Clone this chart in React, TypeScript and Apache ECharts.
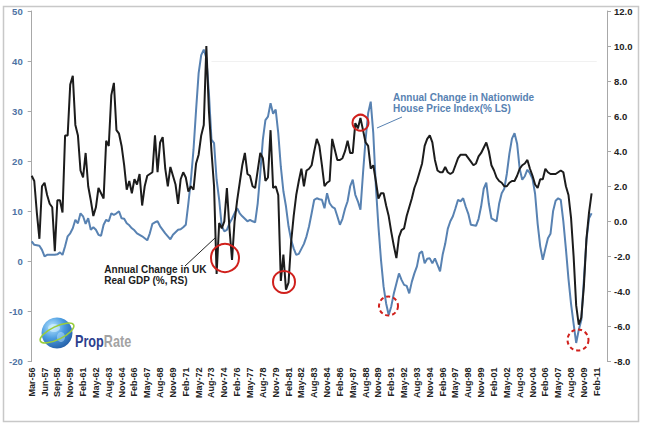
import React, { useEffect, useRef } from "react";
import * as echarts from "echarts";

const tickLabels = [
  "Mar-56", "Jun-57", "Sep-58", "Nov-59", "Feb-61", "May-62", "Aug-63", "Nov-64", "Feb-66",
  "May-67", "Aug-68", "Nov-69", "Feb-71", "May-72", "Aug-73", "Nov-74", "Feb-76", "May-77",
  "Aug-78", "Nov-79", "Feb-81", "May-82", "Aug-83", "Nov-84", "Feb-86", "May-87", "Aug-88",
  "Nov-89", "Feb-91", "May-92", "Aug-93", "Nov-94", "Feb-96", "May-97", "Aug-98", "Nov-99",
  "Feb-01", "May-02", "Aug-03", "Nov-04", "Feb-06", "May-07", "Aug-08", "Nov-09", "Feb-11",
];

const QUARTERS_PER_TICK = 5;
const TOTAL_QUARTERS = 225;

// Annual change in Nationwide House Price Index (%, left scale), quarterly
const hpi = [
  4, 3.3, 3.2, 3.1, 2.3, 1.0, 1.3, 1.3, 1.3, 1.3,
  1.4, 1.8, 1.3, 3.0, 5, 5.6, 6.6, 8.3, 7.6, 9.6,
  9, 7.5, 8.6, 6.3, 6.8, 6.3, 5.3, 5.1, 7.3, 8.3,
  8, 9.6, 9.3, 9.6, 10, 8.6, 8.5, 7.6, 7.2, 6.6,
  6.2, 5.6, 5.3, 5, 4.6, 4.2, 5.6, 7.5, 7.8, 8,
  7, 6.3, 5.6, 5, 4.4, 5.3, 5.8, 6.3, 6.4, 6.8,
  7.3, 11.6, 16.3, 22.3, 30.2, 37.6, 41.2, 42.3, 40.6, 33.6,
  24.3, 23.6, 16.3, 12.3, 7, 6, 6.3, 7.6, 8.5, 9.6,
  10.6, 9.6, 9, 8.5, 8, 8.3, 8, 7.8, 11.6, 17.6,
  24.3, 28.2, 28.9, 31.6, 29.5, 30.3, 25.6, 18.9, 14, 11,
  7, 4.3, 2.6, 1.3, 1.5, 2.5, 3.5, 5, 7, 9.6,
  12.3, 12.6, 12.4, 12.3, 10.6, 13.6, 11.6, 10.9, 10.6, 9,
  7.3, 8.5, 10.5, 12, 15, 16.3, 13.3, 12, 10.3, 17.6,
  24.3, 29.6, 31.9, 25.6, 15, 7, 0.3, -5, -8.4, -10.7,
  -9, -6.4, -4.4, -2.4, -3.7, -4.7, -4.9, -6.4, -4.1, -2.4,
  -1, 1.6, 2, -0.4, 0.5, 0.6, -0.4, 0.6, -0.7, -2,
  1.3, 3.5, 6.5, 8, 9, 10.6, 12.3, 12, 12.6, 10.9,
  9.5, 7.3, 7.2, 7.1, 8.5, 11, 14.5, 15.7, 11.5, 8.6,
  8.3, 8, 11.5, 13.6, 14.5, 17.5, 21.5, 24.5, 25.6, 23.5,
  18.5, 16.3, 17, 18.3, 17.6, 16.5, 13.5, 7.5, 3, 0.3,
  2.5, 4.6, 5.5, 10, 12.1, 12.6, 12.3, 8, 2.5, -3.5,
  -8.5, -12.5, -16.3, -13.7, -11.7, -3.7, 4.3, 8.6, 9.6,
];

// Annual change in UK real GDP (%, right scale), quarterly
const gdp = [
  2.6, 2.3, 0.5, -1.0, 2.0, 2.2, 1.5, 1.0, 0.8, -1.7,
  1.2, 1.2, 0.5, 4.9, 4.9, 7.8, 8.3, 5.5, 4.9, 2.9,
  2.5, 3.9, 2.0, 1.2, 0.3, 0.8, 1.9, 1.6, 1.3, 4.6,
  4.3, 7.2, 7.9, 5.2, 5.0, 4.3, 3.2, 1.8, 2.3, 1.6,
  2.4, 2.1, 2.7, 0.9, 2.0, 2.6, 2.7, 2.8, 4.9, 2.8,
  4.5, 4.8, 3.0, 2.0, 3.1, 2.6, 2.1, 1.0, 2.4, 2.8,
  2.5, 1.7, 2.0, 1.8, 3.3, 3.8, 4.9, 5.5, 10.0, 6.3,
  4.0, 2.0, -3.0, -0.1, -0.4, 0.0, 1.9, -0.4, -2.2, 0.0,
  1.2, 2.2, 3.2, 3.9, 2.7, 2.6, 2.0, 1.9, 2.9, 3.9,
  3.6, 2.3, 2.5, 5.2, 1.9, 2.0, 1.5, -3.4, -1.9, -3.9,
  -3.5, -1.2, 0.3, 1.5, 2.3, 3.0, 2.0, 2.9, 3.0, 3.2,
  4.0, 4.7, 4.3, 3.2, 2.0, 2.2, 2.3, 4.7, 4.1, 3.5,
  3.5, 3.6, 4.0, 4.6, 3.9, 3.9, 5.6, 5.3, 5.9, 5.2,
  4.5, 4.3, 3.0, 3.2, 2.3, 1.3, 1.6, 1.6, 0.9, 0.3,
  -0.6, -1.4, -2.1, -0.9, -0.5, -0.4, 0.3, 0.8, 1.3, 1.9,
  2.3, 2.8, 3.3, 4.3, 4.7, 4.9, 4.5, 3.5, 2.9, 2.8,
  2.8, 3.1, 2.8, 2.7, 2.8, 3.2, 3.6, 3.8, 3.8, 3.8,
  3.6, 3.4, 3.2, 3.3, 3.7, 3.9, 4.2, 4.5, 4.0, 3.2,
  2.9, 2.5, 2.3, 2.2, 2.0, 2.0, 2.2, 2.3, 2.3, 2.6,
  3.0, 3.2, 3.3, 3.5, 3.0, 2.6, 2.1, 1.9, 2.4, 2.4,
  3.0, 2.8, 2.7, 2.7, 2.7, 2.8, 2.9, 2.8, 2.0, 1.5,
  0.2, -2.0, -4.8, -5.9, -5.5, -3.7, -1.0, 0.5, 1.6,
];

const categories = Array.from({ length: TOTAL_QUARTERS }, (_, i) =>
  i % QUARTERS_PER_TICK === 0
    ? tickLabels[i / QUARTERS_PER_TICK]
    : `${tickLabels[Math.floor(i / QUARTERS_PER_TICK)]}+${i % QUARTERS_PER_TICK}`
);

const FONT = "'Liberation Sans', Arial, sans-serif";
const RED = "#d0201c";
const BLUE = "#5882b2";

export default function App() {
  const ref = useRef<HTMLDivElement>(null);

  useEffect(() => {
    if (!ref.current) return;
    const chart = echarts.init(ref.current, undefined, { renderer: "svg" });

    const circle = (cx: number, cy: number, r: number, dashed: boolean) => ({
      type: "circle",
      silent: true,
      z: 100,
      shape: { cx, cy, r },
      style: {
        fill: "none",
        stroke: RED,
        lineWidth: 2,
        lineDash: dashed ? [4, 3] : null,
      },
    });

    chart.setOption({
      animation: false,
      backgroundColor: "#ffffff",
      textStyle: { fontFamily: FONT },
      grid: { left: 31.7, right: 38, top: 11, bottom: 64.5, containLabel: false },
      xAxis: {
        type: "category",
        data: categories,
        boundaryGap: false,
        axisLine: { show: false },
        axisTick: { show: false },
        splitLine: { show: false },
        axisLabel: {
          interval: (i: number) => i % QUARTERS_PER_TICK === 0,
          rotate: 90,
          margin: 6,
          fontSize: 9,
          fontWeight: "bold",
          color: "#222222",
          fontFamily: FONT,
        },
      },
      yAxis: [
        {
          type: "value",
          min: -20,
          max: 50,
          interval: 10,
          position: "left",
          axisLine: { show: true, lineStyle: { color: "#a8a8a8", width: 1 } },
          axisTick: { show: true, length: 4, lineStyle: { color: "#a8a8a8" } },
          splitLine: { show: false },
          axisLabel: {
            margin: 9,
            fontSize: 9.5,
            fontWeight: "bold",
            color: "#4d72a3",
            fontFamily: FONT,
          },
        },
        {
          type: "value",
          min: -8,
          max: 12,
          interval: 2,
          position: "right",
          axisLine: { show: true, lineStyle: { color: "#a8a8a8", width: 1 } },
          axisTick: { show: true, length: 4, lineStyle: { color: "#a8a8a8" } },
          splitLine: { show: false },
          axisLabel: {
            margin: 7,
            fontSize: 9.5,
            fontWeight: "bold",
            color: "#222222",
            fontFamily: FONT,
            formatter: (v: number) => v.toFixed(1),
          },
        },
      ],
      series: [
        {
          name: "Annual Change in Nationwide House Price Index (% LS)",
          type: "line",
          yAxisIndex: 0,
          data: hpi,
          symbol: "none",
          lineStyle: { color: BLUE, width: 2 },
          z: 2,
          markLine: {
            silent: true,
            symbol: "none",
            label: { show: false },
            lineStyle: { color: "#f1f1f1", type: "solid", width: 1 },
            data: [[{ coord: [70, 40] }, { coord: [220, 40] }]],
          },
        },
        {
          name: "Annual Change in UK Real GDP (%, RS)",
          type: "line",
          yAxisIndex: 1,
          data: gdp,
          symbol: "none",
          lineStyle: { color: "#1c1c1c", width: 2 },
          z: 3,
        },
      ],
      graphic: [
        {
          type: "rect",
          silent: true,
          z: -10,
          shape: { x: 3.5, y: 6.5, width: 635, height: 415 },
          style: { fill: "none", stroke: "#c8c8c8", lineWidth: 1.5 },
        },
        circle(225, 258, 14, false),
        circle(284, 282, 11, false),
        circle(360.5, 122.7, 8, false),
        circle(388.5, 306, 9.5, true),
        circle(578, 340, 10.5, true),
        {
          type: "line",
          silent: true,
          z: 100,
          shape: { x1: 185, y1: 266, x2: 215, y2: 238 },
          style: { stroke: "#222222", lineWidth: 1 },
        },
        {
          type: "line",
          silent: true,
          z: 100,
          shape: { x1: 377, y1: 128, x2: 402, y2: 117 },
          style: { stroke: BLUE, lineWidth: 1 },
        },
        {
          type: "text",
          silent: true,
          z: 100,
          x: 104.3,
          y: 263.5,
          style: {
            text: "Annual Change in UK\nReal GDP (%, RS)",
            fontSize: 10,
            fontWeight: "bold",
            fontFamily: FONT,
            lineHeight: 11.5,
            fill: "#1c1c1c",
            textAlign: "left",
            textVerticalAlign: "top",
          },
        },
        {
          type: "text",
          silent: true,
          z: 100,
          x: 393,
          y: 91.5,
          style: {
            text: "Annual Change in Nationwide\nHouse Price Index(% LS)",
            fontSize: 10,
            fontWeight: "bold",
            fontFamily: FONT,
            lineHeight: 11,
            fill: BLUE,
            textAlign: "left",
            textVerticalAlign: "top",
          },
        },
        {
          type: "group",
          silent: true,
          z: 100,
          x: 57,
          y: 333,
          children: [
            {
              type: "circle",
              shape: { cx: 0, cy: 0, r: 15.5 },
              style: {
                fill: new echarts.graphic.RadialGradient(0.35, 0.3, 0.85, [
                  { offset: 0, color: "#b8e6ff" },
                  { offset: 0.45, color: "#4a9be0" },
                  { offset: 1, color: "#1b4f98" },
                ]),
              },
            },
            {
              type: "ellipse",
              shape: { cx: -3, cy: -5, rx: 6, ry: 4 },
              style: { fill: "rgba(220,245,255,0.55)" },
            },
            {
              type: "ellipse",
              shape: { cx: 4, cy: 4, rx: 4, ry: 5 },
              style: { fill: "rgba(200,235,255,0.45)" },
            },
            {
              type: "ellipse",
              rotation: 0.45,
              shape: { cx: 0, cy: 0, rx: 18.5, ry: 6.5 },
              style: { fill: "none", stroke: "#9acd3c", lineWidth: 1.6 },
            },
          ],
        },
        {
          type: "text",
          silent: true,
          z: 100,
          x: 75,
          y: 341,
          scaleX: 0.79,
          style: {
            text: "{a|Prop}{b|Rate}",
            textAlign: "left",
            textVerticalAlign: "middle",
            rich: {
              a: { fontSize: 16, fontWeight: "bold", fontFamily: FONT, fill: "#2d3f8e" },
              b: { fontSize: 16, fontWeight: "bold", fontFamily: FONT, fill: "#a3a3a3" },
            },
          },
        },
      ],
    });

    return () => chart.dispose();
  }, []);

  return (
    <div
      ref={ref}
      style={{ position: "fixed", left: 0, top: 0, width: 645, height: 426, background: "#fff" }}
    />
  );
}
